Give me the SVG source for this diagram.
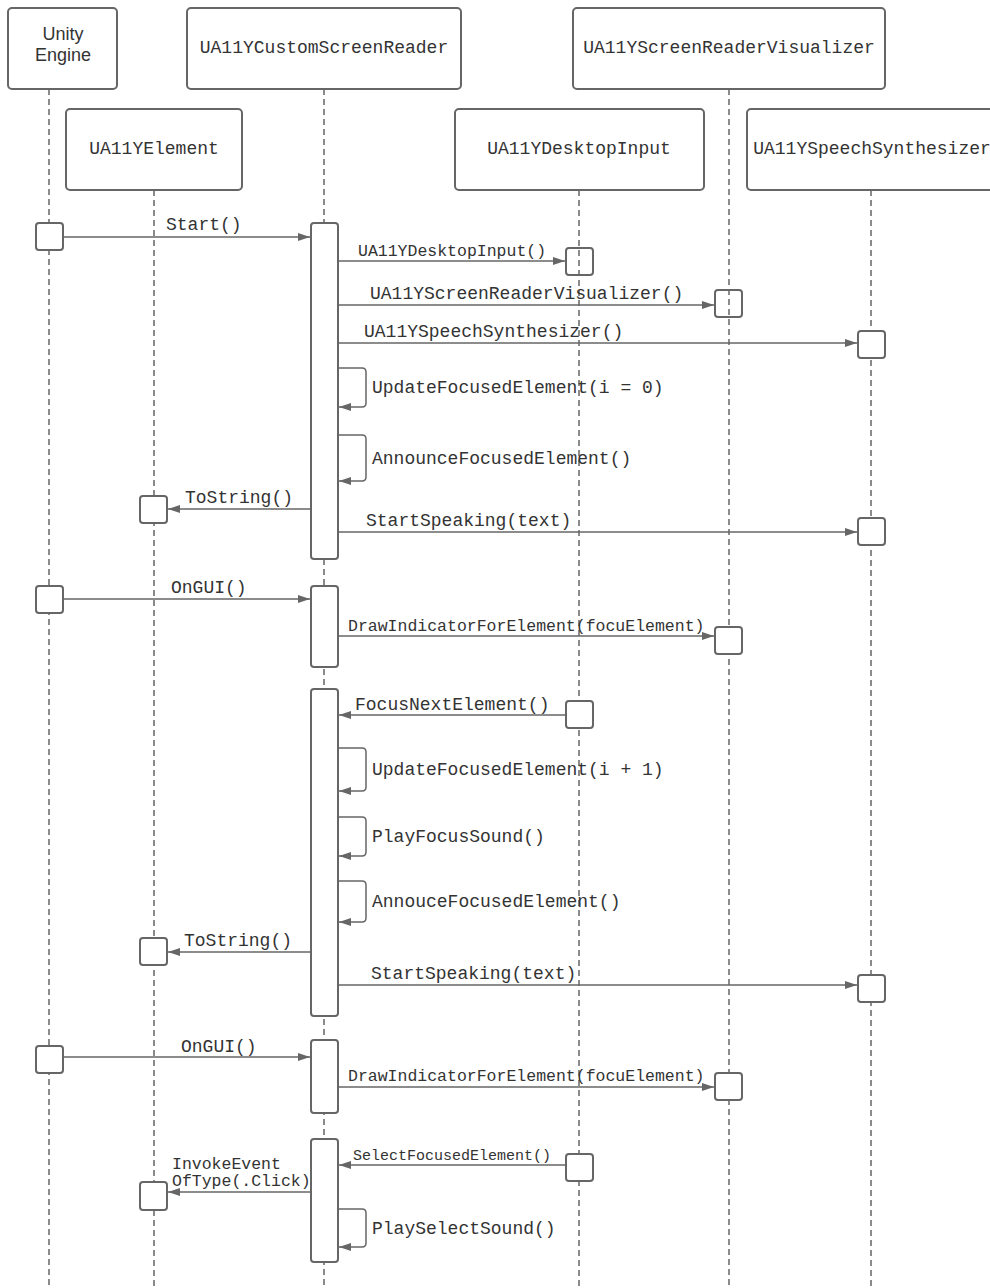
<svg xmlns="http://www.w3.org/2000/svg" width="990" height="1288" viewBox="0 0 990 1288">
<defs>
<marker id="ah" markerUnits="userSpaceOnUse" markerWidth="13" markerHeight="10" refX="12" refY="4" orient="auto">
<path d="M0,0 L12,4 L0,8 z" fill="#666"/>
</marker>
<style>
.hdr{fill:#fff;stroke:#666;stroke-width:2}
.ht{font-family:"Liberation Mono",monospace;font-size:18px;fill:#333;text-anchor:middle}
.hs{font-family:"Liberation Sans",Arial,sans-serif;font-size:18px;fill:#333;text-anchor:middle}
.life{stroke:#666;stroke-width:1.5;stroke-dasharray:6 4;fill:none}
.act{fill:#fff;stroke:#666;stroke-width:2}
.actn{fill:none;stroke:#666;stroke-width:2}
.msg{stroke:#666;stroke-width:1.5;fill:none;marker-end:url(#ah)}
.lb{font-family:"Liberation Mono",monospace;font-size:18px;fill:#333}
.lm{font-family:"Liberation Mono",monospace;font-size:16.5px;fill:#333}
.ls{font-family:"Liberation Mono",monospace;font-size:15px;fill:#333}
</style>
</defs>
<rect width="990" height="1288" fill="#fff"/>

<g id="lifelines">
<line class="life" x1="49" y1="89" x2="49" y2="1288"/>
<line class="life" x1="324" y1="89" x2="324" y2="1288"/>
<line class="life" x1="154" y1="190" x2="154" y2="1288"/>
<line class="life" x1="579" y1="190" x2="579" y2="1288"/>
<line class="life" x1="729" y1="89" x2="729" y2="1288"/>
<line class="life" x1="871" y1="190" x2="871" y2="1288"/>
</g>

<g id="node-unity">
<rect class="hdr" x="8" y="8" width="109" height="81" rx="4"/>
<text class="hs" x="63" y="40">Unity</text>
<text class="hs" x="63" y="61">Engine</text>
</g>
<g id="node-reader">
<rect class="hdr" x="187" y="8" width="274" height="81" rx="4"/>
<text class="ht" x="324" y="53">UA11YCustomScreenReader</text>
</g>
<g id="node-visualizer">
<rect class="hdr" x="573" y="8" width="312" height="81" rx="4"/>
<text class="ht" x="729" y="53">UA11YScreenReaderVisualizer</text>
</g>
<g id="node-element">
<rect class="hdr" x="66" y="109" width="176" height="81" rx="4"/>
<text class="ht" x="154" y="154">UA11YElement</text>
</g>
<g id="node-input">
<rect class="hdr" x="455" y="109" width="249" height="81" rx="4"/>
<text class="ht" x="579" y="154">UA11YDesktopInput</text>
</g>
<g id="node-speech">
<rect class="hdr" x="747" y="109" width="250" height="81" rx="4"/>
<text class="ht" x="872" y="154">UA11YSpeechSynthesizer</text>
</g>

<g id="activations">
<rect class="act" x="311" y="223" width="27" height="336" rx="3"/>
<rect class="act" x="311" y="586" width="27" height="81" rx="3"/>
<rect class="act" x="311" y="689" width="27" height="327" rx="3"/>
<rect class="act" x="311" y="1040" width="27" height="73" rx="3"/>
<rect class="act" x="311" y="1139" width="27" height="123" rx="3"/>

<rect class="act" x="36" y="223" width="27" height="27" rx="3"/>
<rect class="act" x="36" y="586" width="27" height="27" rx="3"/>
<rect class="act" x="36" y="1046" width="27" height="27" rx="3"/>

<rect class="actn" x="566" y="248" width="27" height="27" rx="3"/>
<rect class="act" x="566" y="701" width="27" height="27" rx="3"/>
<rect class="act" x="566" y="1154" width="27" height="27" rx="3"/>

<rect class="actn" x="715" y="290" width="27" height="27" rx="3"/>
<rect class="act" x="715" y="627" width="27" height="27" rx="3"/>
<rect class="act" x="715" y="1073" width="27" height="27" rx="3"/>

<rect class="act" x="858" y="331" width="27" height="27" rx="3"/>
<rect class="act" x="858" y="518" width="27" height="27" rx="3"/>
<rect class="act" x="858" y="975" width="27" height="27" rx="3"/>

<rect class="act" x="140" y="496" width="27" height="27" rx="3"/>
<rect class="act" x="140" y="938" width="27" height="27" rx="3"/>
<rect class="act" x="140" y="1182" width="27" height="28" rx="3"/>
</g>

<g id="connectors">
<line class="msg" x1="63" y1="237" x2="310" y2="237"/>
<line class="msg" x1="338" y1="261" x2="565" y2="261"/>
<line class="msg" x1="338" y1="305" x2="714" y2="305"/>
<line class="msg" x1="338" y1="343" x2="857" y2="343"/>
<path class="msg" d="M338,368 H362 Q366,368 366,372 V403 Q366,407 362,407 H339"/>
<path class="msg" d="M338,435 H362 Q366,435 366,439 V477 Q366,481 362,481 H339"/>
<line class="msg" x1="311" y1="509" x2="168" y2="509"/>
<line class="msg" x1="338" y1="532" x2="857" y2="532"/>
<line class="msg" x1="63" y1="599" x2="310" y2="599"/>
<line class="msg" x1="338" y1="636" x2="714" y2="636"/>
<line class="msg" x1="566" y1="715" x2="339" y2="715"/>
<path class="msg" d="M338,748 H362 Q366,748 366,752 V787 Q366,791 362,791 H339"/>
<path class="msg" d="M338,817 H362 Q366,817 366,821 V852 Q366,856 362,856 H339"/>
<path class="msg" d="M338,881 H362 Q366,881 366,885 V918 Q366,922 362,922 H339"/>
<line class="msg" x1="311" y1="952" x2="168" y2="952"/>
<line class="msg" x1="338" y1="985" x2="857" y2="985"/>
<line class="msg" x1="63" y1="1057" x2="310" y2="1057"/>
<line class="msg" x1="338" y1="1087" x2="714" y2="1087"/>
<line class="msg" x1="566" y1="1165" x2="339" y2="1165"/>
<line class="msg" x1="311" y1="1192" x2="168" y2="1192"/>
<path class="msg" d="M338,1209 H362 Q366,1209 366,1213 V1243 Q366,1247 362,1247 H339"/>
</g>

<g id="labels">
<text class="lb" x="166" y="230">Start()</text>
<text class="lm" x="358" y="256">UA11YDesktopInput()</text>
<text class="lb" x="370" y="299">UA11YScreenReaderVisualizer()</text>
<text class="lb" x="364" y="337">UA11YSpeechSynthesizer()</text>
<text class="lb" x="372" y="393">UpdateFocusedElement(i = 0)</text>
<text class="lb" x="372" y="464">AnnounceFocusedElement()</text>
<text class="lb" x="185" y="503">ToString()</text>
<text class="lb" x="366" y="526">StartSpeaking(text)</text>
<text class="lb" x="171" y="593">OnGUI()</text>
<text class="lm" x="348" y="631">DrawIndicatorForElement(focuElement)</text>
<text class="lb" x="355" y="710">FocusNextElement()</text>
<text class="lb" x="372" y="775">UpdateFocusedElement(i + 1)</text>
<text class="lb" x="372" y="842">PlayFocusSound()</text>
<text class="lb" x="372" y="907">AnnouceFocusedElement()</text>
<text class="lb" x="184" y="946">ToString()</text>
<text class="lb" x="371" y="979">StartSpeaking(text)</text>
<text class="lb" x="181" y="1052">OnGUI()</text>
<text class="lm" x="348" y="1081">DrawIndicatorForElement(focuElement)</text>
<text class="ls" x="353" y="1160">SelectFocusedElement()</text>
<text class="lm" x="172" y="1169">InvokeEvent</text>
<text class="lm" x="172" y="1186">OfType(.Click)</text>
<text class="lb" x="372" y="1234">PlaySelectSound()</text>
</g>
</svg>
